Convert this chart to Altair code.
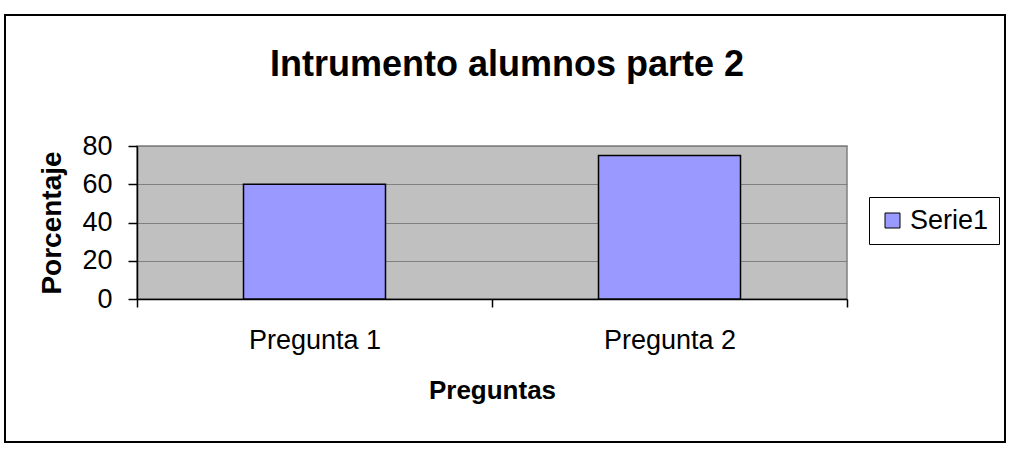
import altair as alt
import pandas as pd

categories = ["Pregunta 1", "Pregunta 2"]
values = [60, 75]
series = ["Serie1", "Serie1"]
y_ticks = [0, 20, 40, 60, 80]

FONT = "Liberation Sans"

df = pd.DataFrame({"pregunta": categories, "porcentaje": values, "serie": series})
frame_df = pd.DataFrame({"k": [0]})

bars = alt.Chart(df).mark_bar(stroke="black", strokeWidth=1.5, width={"band": 0.4}).encode(
    x=alt.X(
        "pregunta:N",
        sort=categories,
        scale=alt.Scale(paddingInner=0, paddingOuter=0),
        axis=alt.Axis(
            title="Preguntas",
            labelAngle=0,
            ticks=True,
            tickBand="extent",
            labelFont=FONT,
            labelFontSize=27,
            labelColor="black",
            labelPadding=20,
            tickSize=8,
            tickColor="black",
            tickWidth=1.5,
            domainColor="black",
            domainWidth=1.5,
            titleFont=FONT,
            titleFontSize=26,
            titleFontWeight="bold",
            titleColor="black",
            titlePadding=24,
        ),
    ),
    y=alt.Y(
        "porcentaje:Q",
        scale=alt.Scale(domain=[0, 80], nice=False),
        axis=alt.Axis(
            title="Porcentaje",
            values=y_ticks,
            labelFont=FONT,
            labelFontSize=27,
            labelColor="black",
            labelPadding=16,
            tickSize=9,
            tickColor="black",
            tickWidth=1.5,
            domainColor="black",
            domainWidth=1.5,
            grid=True,
            gridColor="#808080",
            gridWidth=1,
            titleFont=FONT,
            titleFontSize=28,
            titleFontWeight="bold",
            titleColor="black",
            titlePadding=15,
        ),
    ),
    color=alt.Color(
        "serie:N",
        scale=alt.Scale(range=["#9999FF"]),
        legend=alt.Legend(
            title=None,
            orient="none",
            legendX=732,
            legendY=51,
            strokeColor="black",
            padding=10,
            symbolType="square",
            symbolSize=225,
            symbolStrokeColor="black",
            symbolStrokeWidth=1,
            labelFont=FONT,
            labelFontSize=27,
            labelColor="black",
        ),
    ),
)

frame = alt.Chart(frame_df).mark_rect(fill=None, stroke="black", strokeWidth=2).encode(
    x=alt.value(-132), x2=alt.value(868), y=alt.value(-131), y2=alt.value(296)
)

chart = alt.layer(frame, bars).properties(
    width=710,
    height=153,
    background="white",
    title=alt.Title(
        "Intrumento alumnos parte 2",
        font=FONT,
        fontSize=36,
        fontWeight="bold",
        color="black",
        anchor="middle",
        dx=15,
        offset=-70,
    ),
    autosize=alt.AutoSizeParams(type="none"),
    padding={"left": 137, "top": 146, "right": 170, "bottom": 154},
).configure_view(
    fill="#C0C0C0", stroke="#808080", strokeWidth=1.5
)

chart.save("out.html", embed_options={"renderer": "svg", "actions": False})
